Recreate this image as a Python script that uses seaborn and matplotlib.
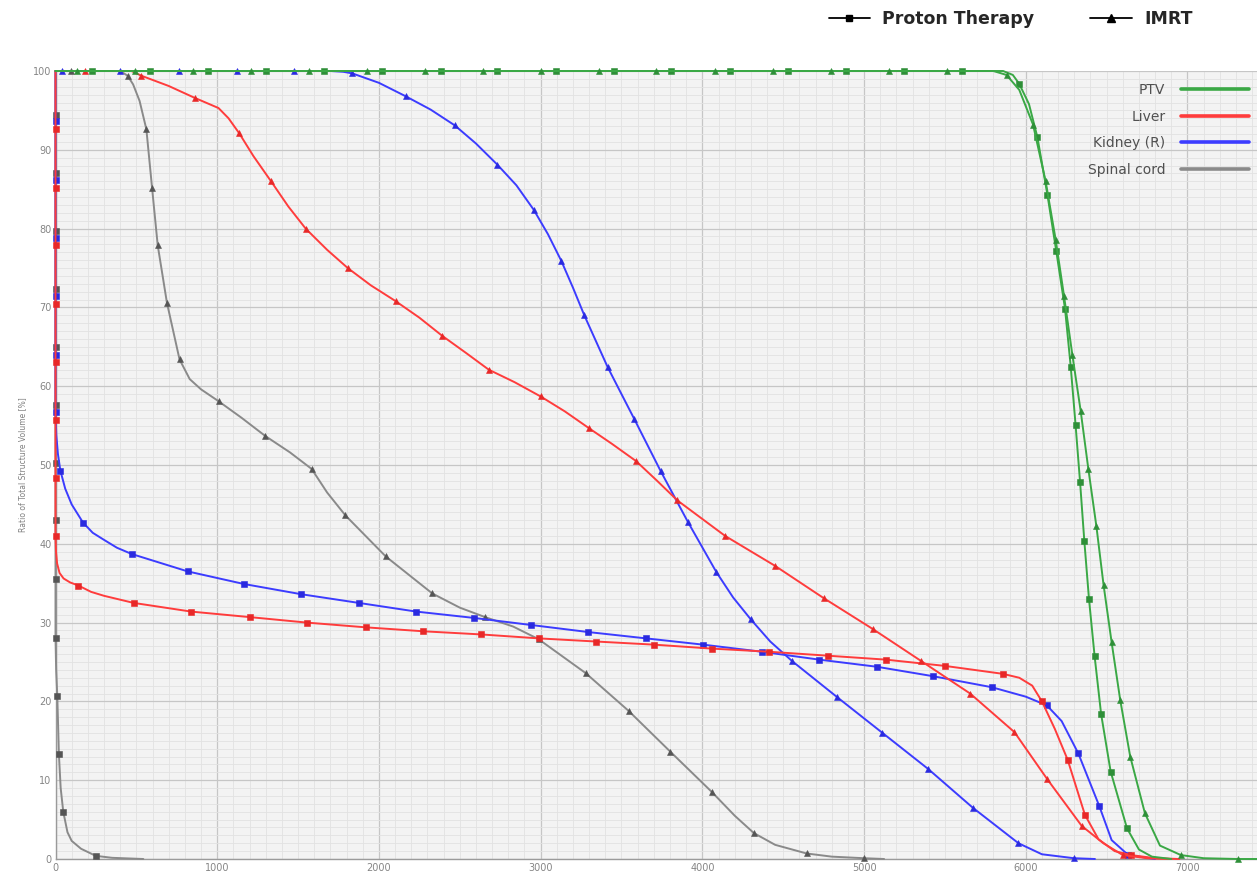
import matplotlib
matplotlib.use("Agg")
import matplotlib.pyplot as plt
from matplotlib.lines import Line2D
from matplotlib.ticker import MultipleLocator
import pandas as pd
import seaborn as sns

# ---- dose-volume histogram data (dose in cGy, volume in %) ----
# PTV
ptv_proton_dose = [0, 226, 586, 945, 1304, 1663, 2022, 2381, 2730, 3095, 3452, 3809, 4170, 4529, 4891, 5248, 5605,
                   5860, 5920, 5959, 6020, 6072, 6134, 6189, 6243, 6278, 6308, 6336, 6362, 6391, 6426, 6466, 6525,
                   6626, 6700, 6780, 6900]
ptv_proton_vol = [100, 100, 100, 100, 100, 100, 100, 100, 100, 100, 100, 100, 100, 100, 100, 100, 100,
                  100, 99.5, 98.4, 95.8, 91.6, 84.3, 77.1, 69.8, 62.5, 55.1, 47.8, 40.4, 33.0, 25.7, 18.4, 11.1,
                  3.9, 1.2, 0.3, 0]
ptv_proton_marks = list(range(1, 17)) + [19, 21] + list(range(22, 34))

ptv_imrt_dose = [0, 130, 489, 848, 1207, 1566, 1925, 2284, 2643, 3000, 3359, 3716, 4077, 4437, 4794, 5155, 5512,
                 5800, 5881, 5960, 6045, 6123, 6185, 6237, 6288, 6340, 6387, 6437, 6481, 6531, 6584, 6646, 6737,
                 6830, 6959, 7100, 7313, 7430]
ptv_imrt_vol = [100, 100, 100, 100, 100, 100, 100, 100, 100, 100, 100, 100, 100, 100, 100, 100, 100,
                100, 99.5, 97.6, 93.2, 86.0, 78.6, 71.4, 64.0, 56.8, 49.5, 42.2, 34.8, 27.5, 20.2, 13.0, 5.8,
                1.7, 0.5, 0.1, 0, 0]
ptv_imrt_marks = list(range(1, 17)) + [18, 20] + list(range(21, 33)) + [34, 36]

# Liver
liver_proton_dose = [0, 0, 0, 0, 0, 0, 0, 0, 0, 3, 10, 25, 50, 90, 142, 220, 300, 483, 838, 1200, 1555, 1918,
                     2273, 2631, 2987, 3342, 3704, 4059, 4414, 4776, 5135, 5502, 5858, 5960, 6040, 6100, 6180,
                     6259, 6366, 6450, 6550, 6650, 6800, 6950]
liver_proton_vol = [100, 92.6, 85.2, 77.9, 70.4, 63.1, 55.7, 48.4, 41.0, 39.0, 37.5, 36.3, 35.6, 35.1, 34.7,
                    33.9, 33.4, 32.5, 31.4, 30.7, 30.0, 29.4, 28.9, 28.5, 28.0, 27.6, 27.2, 26.7, 26.3, 25.8,
                    25.3, 24.5, 23.5, 23.0, 22.0, 20.0, 16.5, 12.6, 5.6, 2.5, 1.0, 0.5, 0.1, 0]
liver_proton_marks = list(range(1, 9)) + [14] + list(range(17, 33)) + [35, 37, 38, 41]

liver_imrt_dose = [0, 181, 470, 531, 700, 860, 1008, 1070, 1136, 1224, 1333, 1440, 1547, 1680, 1807, 1950, 2103,
                   2250, 2391, 2540, 2679, 2840, 3000, 3150, 3297, 3440, 3590, 3720, 3846, 4141, 4450, 4751,
                   5053, 5355, 5656, 5930, 6134, 6346, 6480, 6600, 6750, 6900]
liver_imrt_vol = [100, 100, 100, 99.4, 98.1, 96.6, 95.3, 94.0, 92.1, 89.2, 86.0, 82.8, 80.0, 77.3, 75.0, 72.8,
                  70.8, 68.7, 66.4, 64.2, 62.1, 60.5, 58.7, 56.8, 54.7, 52.7, 50.5, 48.0, 45.5, 41.0, 37.2,
                  33.1, 29.2, 25.1, 21.0, 16.1, 10.1, 4.2, 2.0, 0.5, 0.1, 0]
liver_imrt_marks = [1, 3, 5, 8, 10, 12, 14, 16, 18, 20, 22, 24, 26] + list(range(28, 38)) + [39]

# Kidney (R)
kidney_proton_dose = [0, 0, 0, 0, 0, 0, 0, 5, 15, 30, 60, 100, 170, 230, 300, 380, 472, 817, 1165, 1520, 1875,
                      2230, 2585, 2940, 3295, 3651, 4006, 4368, 4723, 5078, 5426, 5790, 6000, 6130, 6222, 6325,
                      6455, 6531, 6634, 6800]
kidney_proton_vol = [100, 93.6, 86.2, 78.8, 71.4, 64.0, 56.7, 53.8, 51.4, 49.3, 47.0, 45.0, 42.7, 41.4, 40.5,
                     39.5, 38.7, 36.5, 34.9, 33.6, 32.5, 31.4, 30.6, 29.7, 28.8, 28.0, 27.2, 26.3, 25.3, 24.4,
                     23.2, 21.8, 20.6, 19.5, 17.5, 13.4, 6.7, 2.4, 0.5, 0]
kidney_proton_marks = list(range(1, 7)) + [9, 12] + list(range(16, 32)) + [33, 35, 36, 38]

kidney_imrt_dose = [0, 41, 401, 761, 1121, 1477, 1700, 1780, 1835, 2000, 2165, 2320, 2469, 2600, 2733, 2850,
                    2957, 3045, 3128, 3200, 3270, 3415, 3580, 3743, 3910, 4087, 4190, 4300, 4420, 4556, 4830,
                    5114, 5398, 5673, 5955, 6100, 6298, 6428]
kidney_imrt_vol = [100, 100, 100, 100, 100, 100, 100, 99.9, 99.7, 98.5, 96.8, 95.1, 93.1, 90.8, 88.1, 85.5,
                   82.4, 79.3, 75.9, 72.5, 69.0, 62.4, 55.8, 49.2, 42.8, 36.4, 33.2, 30.4, 27.6, 25.1, 20.6,
                   16.0, 11.4, 6.5, 2.0, 0.6, 0.1, 0]
kidney_imrt_marks = [1, 2, 3, 4, 5, 8, 10, 12, 14, 16, 18, 20, 21, 22, 23, 24, 25, 27, 29, 30, 31, 32, 33, 34, 36]

# Spinal cord
cord_proton_dose = [0, 0, 0, 0, 0, 0, 0, 0, 0, 0, 0, 4, 11, 21, 32, 48, 74, 100, 158, 249, 350, 543]
cord_proton_vol = [100, 94.4, 87.0, 79.7, 72.3, 65.0, 57.6, 50.2, 43.0, 35.5, 28.1, 24.0, 20.7, 13.3, 9.0, 6.0,
                   3.4, 2.3, 1.3, 0.4, 0.15, 0]
cord_proton_marks = list(range(1, 11)) + [12, 13, 15, 19]

cord_imrt_dose = [0, 93, 400, 446, 480, 520, 562, 597, 632, 689, 767, 830, 900, 1008, 1150, 1296, 1450, 1584,
                  1680, 1793, 2042, 2330, 2500, 2656, 2830, 2987, 3278, 3544, 3803, 4059, 4200, 4318, 4450, 4645,
                  4800, 5000, 5124]
cord_imrt_vol = [100, 100, 100, 99.4, 98.3, 96.2, 92.6, 85.2, 77.9, 70.6, 63.4, 60.9, 59.6, 58.1, 56.0, 53.7,
                 51.6, 49.5, 46.5, 43.6, 38.4, 33.7, 31.9, 30.7, 29.5, 27.9, 23.6, 18.8, 13.6, 8.5, 5.5, 3.3, 1.8,
                 0.7, 0.3, 0.1, 0]
cord_imrt_marks = [1, 3, 6, 7, 8, 9, 10, 13, 15, 17, 19, 20, 21, 23, 25, 26, 27, 28, 29, 31, 33, 35]

structures = ["PTV", "Liver", "Kidney (R)", "Spinal cord"]
colors = {"PTV": "#3aa845", "Liver": "#ff3c3c", "Kidney (R)": "#3c3cff", "Spinal cord": "#8a8a8a"}
marker_colors = {"PTV": "#2e8f38", "Liver": "#e82828", "Kidney (R)": "#2a2ae0", "Spinal cord": "#555555"}

series = [
    ("Spinal cord", "Proton", cord_proton_dose, cord_proton_vol, cord_proton_marks),
    ("Spinal cord", "IMRT", cord_imrt_dose, cord_imrt_vol, cord_imrt_marks),
    ("Kidney (R)", "Proton", kidney_proton_dose, kidney_proton_vol, kidney_proton_marks),
    ("Kidney (R)", "IMRT", kidney_imrt_dose, kidney_imrt_vol, kidney_imrt_marks),
    ("Liver", "Proton", liver_proton_dose, liver_proton_vol, liver_proton_marks),
    ("Liver", "IMRT", liver_imrt_dose, liver_imrt_vol, liver_imrt_marks),
    ("PTV", "Proton", ptv_proton_dose, ptv_proton_vol, ptv_proton_marks),
    ("PTV", "IMRT", ptv_imrt_dose, ptv_imrt_vol, ptv_imrt_marks),
]
technique_marker = {"Proton": "s", "IMRT": "^"}

sns.set_style("white")
plt.rcParams["font.family"] = ["DejaVu Sans"]

fig = plt.figure(figsize=(12.57, 8.76), dpi=100)
ax = fig.add_axes([55.5 / 1257, 17 / 876, (1257 - 55.5) / 1257, 788 / 876])
ax.set_facecolor("#f3f3f3")

for structure, tech, dose, vol, marks in series:
    df = pd.DataFrame({"dose": dose, "vol": vol})
    sns.lineplot(data=df, x="dose", y="vol", sort=False, estimator=None, ax=ax,
                 color=colors[structure], lw=1.4,
                 marker=technique_marker[tech], markevery=marks,
                 markersize=3.8 if tech == "Proton" else 4.3,
                 markerfacecolor=marker_colors[structure], markeredgecolor=marker_colors[structure],
                 markeredgewidth=0.4, clip_on=False, zorder=3)

ax.set_xlim(0, 7430)
ax.set_ylim(0, 100)
ax.xaxis.set_major_locator(MultipleLocator(1000))
ax.xaxis.set_minor_locator(MultipleLocator(100))
ax.yaxis.set_major_locator(MultipleLocator(10))
ax.yaxis.set_minor_locator(MultipleLocator(1))
ax.grid(which="major", color="#c6c6c6", lw=0.9, zorder=0)
ax.grid(which="minor", color="#e2e2e2", lw=0.6, zorder=0)
ax.set_axisbelow(True)
ax.tick_params(which="both", length=0, labelsize=7, labelcolor="#858585", pad=3)
for side in ("top", "right"):
    ax.spines[side].set_visible(False)
for side in ("left", "bottom"):
    ax.spines[side].set_color("#9a9a9a")
    ax.spines[side].set_linewidth(1.0)
ax.set_xlabel("")
ax.set_ylabel("Ratio of Total Structure Volume [%]", fontsize=5.5, color="#808080", labelpad=4)

# structure legend (colour key)
struct_handles = [Line2D([0], [0], color=colors[s], lw=2.6) for s in structures]
leg = ax.legend(struct_handles, structures, loc="upper right", bbox_to_anchor=(1.0, 0.995),
                markerfirst=False, frameon=False, fontsize=10, labelcolor="#505050",
                handlelength=4.9, handletextpad=1.1, labelspacing=0.9, borderaxespad=0.2)

# technique legend (marker key)
tech_handles = [Line2D([0], [0], color="black", lw=1.3, marker="s", markersize=5),
                Line2D([0], [0], color="black", lw=1.3, marker="^", markersize=5.5)]
fig.legend(tech_handles, ["Proton Therapy", "IMRT"], loc="upper left", bbox_to_anchor=(813 / 1257, 1.006),
           ncol=2, frameon=False, prop={"weight": "bold", "size": 12.5}, handlelength=2.4,
           handletextpad=0.7, columnspacing=3.2)

fig.savefig("out.png", dpi=100, facecolor="white")
